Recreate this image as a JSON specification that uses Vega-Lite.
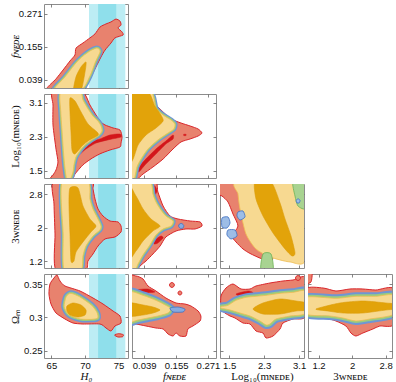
{
"$schema":"https://vega.github.io/schema/vega-lite/v6.json",
"padding":{"left":8,"top":3,"right":2,"bottom":1},
"datasets":{
"bands":[{"lo":70.6,"hi":76.0,"k":"2s"},{"lo":71.95,"hi":74.65,"k":"1s"}],
"c":[
{"p":"A","k":"r2","s":"A1","i":0,"x":64.3,"y":0},{"p":"A","k":"r2","s":"A1","i":1,"x":65.69,"y":0.042},{"p":"A","k":"r2","s":"A1","i":2,"x":66.73,"y":0.073},{"p":"A","k":"r2","s":"A1","i":3,"x":67.77,"y":0.105},{"p":"A","k":"r2","s":"A1","i":4,"x":68.51,"y":0.126},{"p":"A","k":"r2","s":"A1","i":5,"x":68.66,"y":0.15},{"p":"A","k":"r2","s":"A1","i":6,"x":69.7,"y":0.168},{"p":"A","k":"r2","s":"A1","i":7,"x":70.74,"y":0.186},{"p":"A","k":"r2","s":"A1","i":8,"x":71.49,"y":0.2},{"p":"A","k":"r2","s":"A1","i":9,"x":72.23,"y":0.224},{"p":"A","k":"r2","s":"A1","i":10,"x":73.13,"y":0.235},{"p":"A","k":"r2","s":"A1","i":11,"x":73.87,"y":0.242},{"p":"A","k":"r2","s":"A1","i":12,"x":74.61,"y":0.252},{"p":"A","k":"r2","s":"A1","i":13,"x":75.21,"y":0.245},{"p":"A","k":"r2","s":"A1","i":14,"x":75.36,"y":0.231},{"p":"A","k":"r2","s":"A1","i":15,"x":74.91,"y":0.221},{"p":"A","k":"r2","s":"A1","i":16,"x":75.51,"y":0.207},{"p":"A","k":"r2","s":"A1","i":17,"x":75.66,"y":0.196},{"p":"A","k":"r2","s":"A1","i":18,"x":74.46,"y":0.186},{"p":"A","k":"r2","s":"A1","i":19,"x":73.87,"y":0.168},{"p":"A","k":"r2","s":"A1","i":20,"x":72.98,"y":0.143},{"p":"A","k":"r2","s":"A1","i":21,"x":72.38,"y":0.119},{"p":"A","k":"r2","s":"A1","i":22,"x":71.64,"y":0.084},{"p":"A","k":"r2","s":"A1","i":23,"x":70.89,"y":0.049},{"p":"A","k":"r2","s":"A1","i":24,"x":70.15,"y":0.017},{"p":"A","k":"r2","s":"A1","i":25,"x":69.8,"y":0},
{"p":"A","k":"y2","s":"A2","i":0,"x":65.35,"y":0},{"p":"A","k":"y2","s":"A2","i":1,"x":67.02,"y":0.049},{"p":"A","k":"y2","s":"A2","i":2,"x":68.66,"y":0.098},{"p":"A","k":"y2","s":"A2","i":3,"x":69.7,"y":0.122},{"p":"A","k":"y2","s":"A2","i":4,"x":70.74,"y":0.14},{"p":"A","k":"y2","s":"A2","i":5,"x":71.64,"y":0.15},{"p":"A","k":"y2","s":"A2","i":6,"x":72.08,"y":0.147},{"p":"A","k":"y2","s":"A2","i":7,"x":72.23,"y":0.136},{"p":"A","k":"y2","s":"A2","i":8,"x":71.49,"y":0.098},{"p":"A","k":"y2","s":"A2","i":9,"x":70.74,"y":0.052},{"p":"A","k":"y2","s":"A2","i":10,"x":69.3,"y":0},
{"p":"A","k":"y1","s":"A3","i":0,"x":68.3,"y":0},{"p":"A","k":"y1","s":"A3","i":1,"x":68.66,"y":0.049},{"p":"A","k":"y1","s":"A3","i":2,"x":69.41,"y":0.084},{"p":"A","k":"y1","s":"A3","i":3,"x":70.15,"y":0.101},{"p":"A","k":"y1","s":"A3","i":4,"x":70.0,"y":0.066},{"p":"A","k":"y1","s":"A3","i":5,"x":69.4,"y":0},
{"p":"B","k":"r2","s":"B1","i":0,"x":65.24,"y":3.36},{"p":"B","k":"r2","s":"B1","i":1,"x":69.55,"y":3.36},{"p":"B","k":"r2","s":"B1","i":2,"x":70.74,"y":3.05},{"p":"B","k":"r2","s":"B1","i":3,"x":71.64,"y":2.815},{"p":"B","k":"r2","s":"B1","i":4,"x":72.38,"y":2.65},{"p":"B","k":"r2","s":"B1","i":5,"x":72.98,"y":2.58},{"p":"B","k":"r2","s":"B1","i":6,"x":74.17,"y":2.51},{"p":"B","k":"r2","s":"B1","i":7,"x":75.21,"y":2.46},{"p":"B","k":"r2","s":"B1","i":8,"x":75.51,"y":2.3},{"p":"B","k":"r2","s":"B1","i":9,"x":75.36,"y":2.155},{"p":"B","k":"r2","s":"B1","i":10,"x":75.21,"y":2.06},{"p":"B","k":"r2","s":"B1","i":11,"x":73.72,"y":1.99},{"p":"B","k":"r2","s":"B1","i":12,"x":72.23,"y":1.9},{"p":"B","k":"r2","s":"B1","i":13,"x":70.89,"y":1.78},{"p":"B","k":"r2","s":"B1","i":14,"x":69.7,"y":1.64},{"p":"B","k":"r2","s":"B1","i":15,"x":68.51,"y":1.425},{"p":"B","k":"r2","s":"B1","i":16,"x":67.92,"y":1.28},{"p":"B","k":"r2","s":"B1","i":17,"x":64.79,"y":1.28},{"p":"B","k":"r2","s":"B1","i":18,"x":65.24,"y":1.4},{"p":"B","k":"r2","s":"B1","i":19,"x":65.69,"y":1.52},{"p":"B","k":"r2","s":"B1","i":20,"x":65.98,"y":1.71},{"p":"B","k":"r2","s":"B1","i":21,"x":65.69,"y":2.01},{"p":"B","k":"r2","s":"B1","i":22,"x":65.24,"y":2.58},{"p":"B","k":"r2","s":"B1","i":23,"x":65.24,"y":3.05},
{"p":"B","k":"r1","s":"B2","i":0,"x":69.11,"y":1.943},{"p":"B","k":"r1","s":"B2","i":1,"x":69.7,"y":2.084},{"p":"B","k":"r1","s":"B2","i":2,"x":71.19,"y":2.202},{"p":"B","k":"r1","s":"B2","i":3,"x":72.23,"y":2.25},{"p":"B","k":"r1","s":"B2","i":4,"x":73.72,"y":2.344},{"p":"B","k":"r1","s":"B2","i":5,"x":75.21,"y":2.367},{"p":"B","k":"r1","s":"B2","i":6,"x":75.36,"y":2.297},{"p":"B","k":"r1","s":"B2","i":7,"x":73.72,"y":2.24},{"p":"B","k":"r1","s":"B2","i":8,"x":71.64,"y":2.155},{"p":"B","k":"r1","s":"B2","i":9,"x":70.15,"y":2.014},{"p":"B","k":"r1","s":"B2","i":10,"x":69.26,"y":1.896},
{"p":"B","k":"y2","s":"B3","i":0,"x":66.4,"y":3.36},{"p":"B","k":"y2","s":"B3","i":1,"x":69.26,"y":3.36},{"p":"B","k":"y2","s":"B3","i":2,"x":69.7,"y":3.17},{"p":"B","k":"y2","s":"B3","i":3,"x":70.45,"y":2.96},{"p":"B","k":"y2","s":"B3","i":4,"x":71.19,"y":2.79},{"p":"B","k":"y2","s":"B3","i":5,"x":71.94,"y":2.67},{"p":"B","k":"y2","s":"B3","i":6,"x":72.38,"y":2.56},{"p":"B","k":"y2","s":"B3","i":7,"x":72.53,"y":2.44},{"p":"B","k":"y2","s":"B3","i":8,"x":72.08,"y":2.34},{"p":"B","k":"y2","s":"B3","i":9,"x":71.19,"y":2.25},{"p":"B","k":"y2","s":"B3","i":10,"x":70.15,"y":2.13},{"p":"B","k":"y2","s":"B3","i":11,"x":69.41,"y":2.01},{"p":"B","k":"y2","s":"B3","i":12,"x":68.66,"y":1.825},{"p":"B","k":"y2","s":"B3","i":13,"x":68.36,"y":1.64},{"p":"B","k":"y2","s":"B3","i":14,"x":68.22,"y":1.47},{"p":"B","k":"y2","s":"B3","i":15,"x":67.77,"y":1.28},{"p":"B","k":"y2","s":"B3","i":16,"x":67.3,"y":1.28},{"p":"B","k":"y2","s":"B3","i":17,"x":67.0,"y":1.59},{"p":"B","k":"y2","s":"B3","i":18,"x":66.8,"y":1.94},{"p":"B","k":"y2","s":"B3","i":19,"x":66.6,"y":2.41},{"p":"B","k":"y2","s":"B3","i":20,"x":66.4,"y":2.89},
{"p":"B","k":"y1","s":"B4","i":0,"x":67.77,"y":3.216},{"p":"B","k":"y1","s":"B4","i":1,"x":68.51,"y":3.145},{"p":"B","k":"y1","s":"B4","i":2,"x":69.41,"y":2.886},{"p":"B","k":"y1","s":"B4","i":3,"x":70.45,"y":2.603},{"p":"B","k":"y1","s":"B4","i":4,"x":71.79,"y":2.414},{"p":"B","k":"y1","s":"B4","i":5,"x":71.94,"y":2.34},{"p":"B","k":"y1","s":"B4","i":6,"x":70.6,"y":2.22},{"p":"B","k":"y1","s":"B4","i":7,"x":69.6,"y":2.09},{"p":"B","k":"y1","s":"B4","i":8,"x":68.51,"y":1.896},{"p":"B","k":"y1","s":"B4","i":9,"x":68.07,"y":1.99},{"p":"B","k":"y1","s":"B4","i":10,"x":67.92,"y":2.414},{"p":"B","k":"y1","s":"B4","i":11,"x":67.77,"y":2.886},
{"p":"C","k":"r2","s":"C1","i":0,"x":65.39,"y":3.09},{"p":"C","k":"r2","s":"C1","i":1,"x":70.89,"y":3.09},{"p":"C","k":"r2","s":"C1","i":2,"x":71.19,"y":2.921},{"p":"C","k":"r2","s":"C1","i":3,"x":71.49,"y":2.683},{"p":"C","k":"r2","s":"C1","i":4,"x":71.94,"y":2.445},{"p":"C","k":"r2","s":"C1","i":5,"x":72.68,"y":2.278},{"p":"C","k":"r2","s":"C1","i":6,"x":73.72,"y":2.159},{"p":"C","k":"r2","s":"C1","i":7,"x":74.91,"y":2.136},{"p":"C","k":"r2","s":"C1","i":8,"x":75.36,"y":2.04},{"p":"C","k":"r2","s":"C1","i":9,"x":75.36,"y":1.898},{"p":"C","k":"r2","s":"C1","i":10,"x":74.46,"y":1.779},{"p":"C","k":"r2","s":"C1","i":11,"x":72.98,"y":1.731},{"p":"C","k":"r2","s":"C1","i":12,"x":71.94,"y":1.564},{"p":"C","k":"r2","s":"C1","i":13,"x":71.19,"y":1.374},{"p":"C","k":"r2","s":"C1","i":14,"x":70.45,"y":1.207},{"p":"C","k":"r2","s":"C1","i":15,"x":70.0,"y":0.99},{"p":"C","k":"r2","s":"C1","i":16,"x":65.69,"y":0.99},{"p":"C","k":"r2","s":"C1","i":17,"x":65.54,"y":1.85},{"p":"C","k":"r2","s":"C1","i":18,"x":65.39,"y":2.564},
{"p":"C","k":"y2","s":"C2","i":0,"x":66.6,"y":3.09},{"p":"C","k":"y2","s":"C2","i":1,"x":70.45,"y":3.09},{"p":"C","k":"y2","s":"C2","i":2,"x":70.74,"y":2.683},{"p":"C","k":"y2","s":"C2","i":3,"x":71.19,"y":2.445},{"p":"C","k":"y2","s":"C2","i":4,"x":71.94,"y":2.207},{"p":"C","k":"y2","s":"C2","i":5,"x":72.38,"y":2.04},{"p":"C","k":"y2","s":"C2","i":6,"x":72.23,"y":1.945},{"p":"C","k":"y2","s":"C2","i":7,"x":71.19,"y":1.802},{"p":"C","k":"y2","s":"C2","i":8,"x":70.15,"y":1.564},{"p":"C","k":"y2","s":"C2","i":9,"x":69.7,"y":1.326},{"p":"C","k":"y2","s":"C2","i":10,"x":69.41,"y":0.99},{"p":"C","k":"y2","s":"C2","i":11,"x":66.9,"y":0.99},{"p":"C","k":"y2","s":"C2","i":12,"x":66.75,"y":1.85},
{"p":"C","k":"y1","s":"C3","i":0,"x":67.77,"y":2.945},{"p":"C","k":"y1","s":"C3","i":1,"x":68.96,"y":2.945},{"p":"C","k":"y1","s":"C3","i":2,"x":69.7,"y":2.516},{"p":"C","k":"y1","s":"C3","i":3,"x":70.74,"y":2.207},{"p":"C","k":"y1","s":"C3","i":4,"x":71.64,"y":2.04},{"p":"C","k":"y1","s":"C3","i":5,"x":70.89,"y":1.898},{"p":"C","k":"y1","s":"C3","i":6,"x":69.7,"y":1.66},{"p":"C","k":"y1","s":"C3","i":7,"x":68.66,"y":1.422},{"p":"C","k":"y1","s":"C3","i":8,"x":68.36,"y":1.207},{"p":"C","k":"y1","s":"C3","i":9,"x":67.92,"y":1.207},{"p":"C","k":"y1","s":"C3","i":10,"x":67.77,"y":1.85},{"p":"C","k":"y1","s":"C3","i":11,"x":67.62,"y":2.564},
{"p":"D","k":"r2","s":"D1","i":0,"x":64.79,"y":0.35},{"p":"D","k":"r2","s":"D1","i":1,"x":65.39,"y":0.359},{"p":"D","k":"r2","s":"D1","i":2,"x":65.83,"y":0.3635},{"p":"D","k":"r2","s":"D1","i":3,"x":66.28,"y":0.3545},{"p":"D","k":"r2","s":"D1","i":4,"x":67.02,"y":0.347},{"p":"D","k":"r2","s":"D1","i":5,"x":69.26,"y":0.3395},{"p":"D","k":"r2","s":"D1","i":6,"x":71.19,"y":0.329},{"p":"D","k":"r2","s":"D1","i":7,"x":72.68,"y":0.32},{"p":"D","k":"r2","s":"D1","i":8,"x":74.17,"y":0.3095},{"p":"D","k":"r2","s":"D1","i":9,"x":75.21,"y":0.302},{"p":"D","k":"r2","s":"D1","i":10,"x":75.36,"y":0.2915},{"p":"D","k":"r2","s":"D1","i":11,"x":74.46,"y":0.287},{"p":"D","k":"r2","s":"D1","i":12,"x":73.87,"y":0.2795},{"p":"D","k":"r2","s":"D1","i":13,"x":73.13,"y":0.284},{"p":"D","k":"r2","s":"D1","i":14,"x":72.23,"y":0.29},{"p":"D","k":"r2","s":"D1","i":15,"x":69.7,"y":0.29},{"p":"D","k":"r2","s":"D1","i":16,"x":68.22,"y":0.2915},{"p":"D","k":"r2","s":"D1","i":17,"x":67.02,"y":0.2975},{"p":"D","k":"r2","s":"D1","i":18,"x":65.69,"y":0.3065},{"p":"D","k":"r2","s":"D1","i":19,"x":64.94,"y":0.32},{"p":"D","k":"r2","s":"D1","i":20,"x":64.64,"y":0.335},
{"p":"D","k":"r2","s":"D2","i":0,"x":74.4,"y":0.2735},{"p":"D","k":"r2","s":"D2","i":1,"x":75.0,"y":0.2755},{"p":"D","k":"r2","s":"D2","i":2,"x":75.7,"y":0.274},{"p":"D","k":"r2","s":"D2","i":3,"x":75.6,"y":0.271},{"p":"D","k":"r2","s":"D2","i":4,"x":74.9,"y":0.2705},
{"p":"D","k":"y2","s":"D3","i":0,"x":67.2,"y":0.331},{"p":"D","k":"y2","s":"D3","i":1,"x":67.9,"y":0.336},{"p":"D","k":"y2","s":"D3","i":2,"x":69.26,"y":0.3305},{"p":"D","k":"y2","s":"D3","i":3,"x":71.0,"y":0.318},{"p":"D","k":"y2","s":"D3","i":4,"x":71.8,"y":0.307},{"p":"D","k":"y2","s":"D3","i":5,"x":71.9,"y":0.299},{"p":"D","k":"y2","s":"D3","i":6,"x":71.0,"y":0.297},{"p":"D","k":"y2","s":"D3","i":7,"x":69.26,"y":0.2975},{"p":"D","k":"y2","s":"D3","i":8,"x":67.6,"y":0.304},{"p":"D","k":"y2","s":"D3","i":9,"x":66.9,"y":0.316},
{"p":"D","k":"y1","s":"D4","i":0,"x":67.32,"y":0.317},{"p":"D","k":"y1","s":"D4","i":1,"x":68.22,"y":0.3215},{"p":"D","k":"y1","s":"D4","i":2,"x":69.41,"y":0.3185},{"p":"D","k":"y1","s":"D4","i":3,"x":70.15,"y":0.311},{"p":"D","k":"y1","s":"D4","i":4,"x":70.0,"y":0.3035},{"p":"D","k":"y1","s":"D4","i":5,"x":68.96,"y":0.3005},{"p":"D","k":"y1","s":"D4","i":6,"x":67.77,"y":0.3035},{"p":"D","k":"y1","s":"D4","i":7,"x":67.32,"y":0.3095},
{"p":"E","k":"r2","s":"E1","i":0,"x":-0.02,"y":3.36},{"p":"E","k":"r2","s":"E1","i":1,"x":0.035,"y":3.36},{"p":"E","k":"r2","s":"E1","i":2,"x":0.071,"y":3.121},{"p":"E","k":"r2","s":"E1","i":3,"x":0.108,"y":2.886},{"p":"E","k":"r2","s":"E1","i":4,"x":0.137,"y":2.72},{"p":"E","k":"r2","s":"E1","i":5,"x":0.173,"y":2.626},{"p":"E","k":"r2","s":"E1","i":6,"x":0.206,"y":2.556},{"p":"E","k":"r2","s":"E1","i":7,"x":0.235,"y":2.485},{"p":"E","k":"r2","s":"E1","i":8,"x":0.249,"y":2.391},{"p":"E","k":"r2","s":"E1","i":9,"x":0.235,"y":2.32},{"p":"E","k":"r2","s":"E1","i":10,"x":0.206,"y":2.25},{"p":"E","k":"r2","s":"E1","i":11,"x":0.173,"y":2.18},{"p":"E","k":"r2","s":"E1","i":12,"x":0.144,"y":2.014},{"p":"E","k":"r2","s":"E1","i":13,"x":0.108,"y":1.778},{"p":"E","k":"r2","s":"E1","i":14,"x":0.071,"y":1.589},{"p":"E","k":"r2","s":"E1","i":15,"x":0.035,"y":1.424},{"p":"E","k":"r2","s":"E1","i":16,"x":0.0095,"y":1.28},{"p":"E","k":"r2","s":"E1","i":17,"x":-0.02,"y":1.28},
{"p":"E","k":"r1","s":"E2","i":0,"x":0.017,"y":1.542},{"p":"E","k":"r1","s":"E2","i":1,"x":0.035,"y":1.707},{"p":"E","k":"r1","s":"E2","i":2,"x":0.082,"y":2.014},{"p":"E","k":"r1","s":"E2","i":3,"x":0.118,"y":2.202},{"p":"E","k":"r1","s":"E2","i":4,"x":0.144,"y":2.344},{"p":"E","k":"r1","s":"E2","i":5,"x":0.144,"y":2.25},{"p":"E","k":"r1","s":"E2","i":6,"x":0.118,"y":2.131},{"p":"E","k":"r1","s":"E2","i":7,"x":0.082,"y":1.896},{"p":"E","k":"r1","s":"E2","i":8,"x":0.042,"y":1.636},{"p":"E","k":"r1","s":"E2","i":9,"x":0.02,"y":1.47},
{"p":"E","k":"r1","s":"E3","i":0,"x":0.183,"y":2.36},{"p":"E","k":"r1","s":"E3","i":1,"x":0.191,"y":2.36},{"p":"E","k":"r1","s":"E3","i":2,"x":0.191,"y":2.33},{"p":"E","k":"r1","s":"E3","i":3,"x":0.183,"y":2.33},
{"p":"E","k":"y2","s":"E4","i":0,"x":-0.02,"y":3.36},{"p":"E","k":"y2","s":"E4","i":1,"x":0.064,"y":3.36},{"p":"E","k":"y2","s":"E4","i":2,"x":0.082,"y":2.98},{"p":"E","k":"y2","s":"E4","i":3,"x":0.108,"y":2.815},{"p":"E","k":"y2","s":"E4","i":4,"x":0.137,"y":2.697},{"p":"E","k":"y2","s":"E4","i":5,"x":0.151,"y":2.603},{"p":"E","k":"y2","s":"E4","i":6,"x":0.147,"y":2.485},{"p":"E","k":"y2","s":"E4","i":7,"x":0.126,"y":2.391},{"p":"E","k":"y2","s":"E4","i":8,"x":0.089,"y":2.226},{"p":"E","k":"y2","s":"E4","i":9,"x":0.053,"y":2.014},{"p":"E","k":"y2","s":"E4","i":10,"x":0.028,"y":1.778},{"p":"E","k":"y2","s":"E4","i":11,"x":0.013,"y":1.589},{"p":"E","k":"y2","s":"E4","i":12,"x":0.002,"y":1.28},{"p":"E","k":"y2","s":"E4","i":13,"x":-0.02,"y":1.28},
{"p":"E","k":"y1","s":"E5","i":0,"x":-0.02,"y":3.36},{"p":"E","k":"y1","s":"E5","i":1,"x":0.053,"y":3.36},{"p":"E","k":"y1","s":"E5","i":2,"x":0.078,"y":3.027},{"p":"E","k":"y1","s":"E5","i":3,"x":0.1,"y":2.815},{"p":"E","k":"y1","s":"E5","i":4,"x":0.108,"y":2.674},{"p":"E","k":"y1","s":"E5","i":5,"x":0.082,"y":2.509},{"p":"E","k":"y1","s":"E5","i":6,"x":0.046,"y":2.344},{"p":"E","k":"y1","s":"E5","i":7,"x":0.017,"y":2.108},{"p":"E","k":"y1","s":"E5","i":8,"x":-0.001,"y":1.778},{"p":"E","k":"y1","s":"E5","i":9,"x":-0.02,"y":1.707},
{"p":"F","k":"r2","s":"F1","i":0,"x":-0.02,"y":3.09},{"p":"F","k":"r2","s":"F1","i":1,"x":0.078,"y":3.09},{"p":"F","k":"r2","s":"F1","i":2,"x":0.089,"y":2.85},{"p":"F","k":"r2","s":"F1","i":3,"x":0.108,"y":2.516},{"p":"F","k":"r2","s":"F1","i":4,"x":0.133,"y":2.278},{"p":"F","k":"r2","s":"F1","i":5,"x":0.162,"y":2.207},{"p":"F","k":"r2","s":"F1","i":6,"x":0.206,"y":2.159},{"p":"F","k":"r2","s":"F1","i":7,"x":0.242,"y":2.136},{"p":"F","k":"r2","s":"F1","i":8,"x":0.249,"y":2.04},{"p":"F","k":"r2","s":"F1","i":9,"x":0.224,"y":1.969},{"p":"F","k":"r2","s":"F1","i":10,"x":0.191,"y":1.969},{"p":"F","k":"r2","s":"F1","i":11,"x":0.155,"y":1.921},{"p":"F","k":"r2","s":"F1","i":12,"x":0.118,"y":1.779},{"p":"F","k":"r2","s":"F1","i":13,"x":0.097,"y":1.564},{"p":"F","k":"r2","s":"F1","i":14,"x":0.071,"y":1.374},{"p":"F","k":"r2","s":"F1","i":15,"x":0.046,"y":1.207},{"p":"F","k":"r2","s":"F1","i":16,"x":0.028,"y":1.112},{"p":"F","k":"r2","s":"F1","i":17,"x":0.0095,"y":0.99},{"p":"F","k":"r2","s":"F1","i":18,"x":-0.02,"y":0.99},
{"p":"F","k":"r1","s":"F2","i":0,"x":0.064,"y":2.969},{"p":"F","k":"r1","s":"F2","i":1,"x":0.078,"y":2.992},{"p":"F","k":"r1","s":"F2","i":2,"x":0.086,"y":2.873},{"p":"F","k":"r1","s":"F2","i":3,"x":0.075,"y":2.754},{"p":"F","k":"r1","s":"F2","i":4,"x":0.064,"y":2.826},
{"p":"F","k":"r1","s":"F3","i":0,"x":0.078,"y":1.707},{"p":"F","k":"r1","s":"F3","i":1,"x":0.1,"y":1.802},{"p":"F","k":"r1","s":"F3","i":2,"x":0.108,"y":1.755},{"p":"F","k":"r1","s":"F3","i":3,"x":0.089,"y":1.636},{"p":"F","k":"r1","s":"F3","i":4,"x":0.075,"y":1.612},
{"p":"F","k":"b","s":"F4","i":0,"x":0.164,"y":2.04},{"p":"F","k":"b","s":"F4","i":1,"x":0.168,"y":2.09},{"p":"F","k":"b","s":"F4","i":2,"x":0.176,"y":2.1},{"p":"F","k":"b","s":"F4","i":3,"x":0.183,"y":2.05},{"p":"F","k":"b","s":"F4","i":4,"x":0.18,"y":1.99},{"p":"F","k":"b","s":"F4","i":5,"x":0.17,"y":1.985},
{"p":"F","k":"y2","s":"F5","i":0,"x":-0.02,"y":3.09},{"p":"F","k":"y2","s":"F5","i":1,"x":0.06,"y":3.09},{"p":"F","k":"y2","s":"F5","i":2,"x":0.071,"y":2.802},{"p":"F","k":"y2","s":"F5","i":3,"x":0.082,"y":2.612},{"p":"F","k":"y2","s":"F5","i":4,"x":0.1,"y":2.421},{"p":"F","k":"y2","s":"F5","i":5,"x":0.118,"y":2.278},{"p":"F","k":"y2","s":"F5","i":6,"x":0.144,"y":2.159},{"p":"F","k":"y2","s":"F5","i":7,"x":0.137,"y":2.04},{"p":"F","k":"y2","s":"F5","i":8,"x":0.108,"y":1.969},{"p":"F","k":"y2","s":"F5","i":9,"x":0.082,"y":1.826},{"p":"F","k":"y2","s":"F5","i":10,"x":0.06,"y":1.588},{"p":"F","k":"y2","s":"F5","i":11,"x":0.035,"y":1.35},{"p":"F","k":"y2","s":"F5","i":12,"x":0.017,"y":1.136},{"p":"F","k":"y2","s":"F5","i":13,"x":0.006,"y":0.99},{"p":"F","k":"y2","s":"F5","i":14,"x":-0.02,"y":0.99},
{"p":"F","k":"y1","s":"F6","i":0,"x":-0.02,"y":2.96},{"p":"F","k":"y1","s":"F6","i":1,"x":0.0095,"y":2.754},{"p":"F","k":"y1","s":"F6","i":2,"x":0.035,"y":2.445},{"p":"F","k":"y1","s":"F6","i":3,"x":0.064,"y":2.207},{"p":"F","k":"y1","s":"F6","i":4,"x":0.097,"y":2.04},{"p":"F","k":"y1","s":"F6","i":5,"x":0.071,"y":1.921},{"p":"F","k":"y1","s":"F6","i":6,"x":0.035,"y":1.683},{"p":"F","k":"y1","s":"F6","i":7,"x":0.0095,"y":1.445},{"p":"F","k":"y1","s":"F6","i":8,"x":-0.02,"y":1.3},
{"p":"G","k":"r2","s":"G1","i":0,"x":1.25,"y":3.09},{"p":"G","k":"r2","s":"G1","i":1,"x":1.816,"y":3.09},{"p":"G","k":"r2","s":"G1","i":2,"x":2.044,"y":2.088},{"p":"G","k":"r2","s":"G1","i":3,"x":2.319,"y":1.493},{"p":"G","k":"r2","s":"G1","i":4,"x":2.5,"y":1.255},{"p":"G","k":"r2","s":"G1","i":5,"x":2.319,"y":1.231},{"p":"G","k":"r2","s":"G1","i":6,"x":1.999,"y":1.374},{"p":"G","k":"r2","s":"G1","i":7,"x":1.816,"y":1.493},{"p":"G","k":"r2","s":"G1","i":8,"x":1.656,"y":1.66},{"p":"G","k":"r2","s":"G1","i":9,"x":1.564,"y":1.802},{"p":"G","k":"r2","s":"G1","i":10,"x":1.701,"y":2.04},{"p":"G","k":"r2","s":"G1","i":11,"x":1.587,"y":2.326},{"p":"G","k":"r2","s":"G1","i":12,"x":1.473,"y":2.612},{"p":"G","k":"r2","s":"G1","i":13,"x":1.336,"y":2.754},{"p":"G","k":"r2","s":"G1","i":14,"x":1.25,"y":2.802},
{"p":"G","k":"y2","s":"G2","i":0,"x":1.679,"y":3.09},{"p":"G","k":"y2","s":"G2","i":1,"x":3.25,"y":3.09},{"p":"G","k":"y2","s":"G2","i":2,"x":3.25,"y":1.255},{"p":"G","k":"y2","s":"G2","i":3,"x":2.89,"y":1.184},{"p":"G","k":"y2","s":"G2","i":4,"x":2.433,"y":1.303},{"p":"G","k":"y2","s":"G2","i":5,"x":2.113,"y":1.493},{"p":"G","k":"y2","s":"G2","i":6,"x":1.884,"y":1.85},{"p":"G","k":"y2","s":"G2","i":7,"x":1.747,"y":2.445},{"p":"G","k":"y2","s":"G2","i":8,"x":1.701,"y":2.802},
{"p":"G","k":"g","s":"G3","i":0,"x":2.959,"y":3.09},{"p":"G","k":"g","s":"G3","i":1,"x":3.25,"y":3.09},{"p":"G","k":"g","s":"G3","i":2,"x":3.25,"y":2.469},{"p":"G","k":"g","s":"G3","i":3,"x":3.073,"y":2.516},{"p":"G","k":"g","s":"G3","i":4,"x":3.004,"y":2.754},
{"p":"G","k":"g","s":"G4","i":0,"x":2.273,"y":1.374},{"p":"G","k":"g","s":"G4","i":1,"x":2.456,"y":1.374},{"p":"G","k":"g","s":"G4","i":2,"x":2.502,"y":0.99},{"p":"G","k":"g","s":"G4","i":3,"x":2.227,"y":0.99},
{"p":"G","k":"b","s":"G5","i":0,"x":1.336,"y":2.231},{"p":"G","k":"b","s":"G5","i":1,"x":1.473,"y":2.255},{"p":"G","k":"b","s":"G5","i":2,"x":1.519,"y":2.112},{"p":"G","k":"b","s":"G5","i":3,"x":1.45,"y":1.993},{"p":"G","k":"b","s":"G5","i":4,"x":1.336,"y":2.017},
{"p":"G","k":"b","s":"G6","i":0,"x":1.473,"y":1.945},{"p":"G","k":"b","s":"G6","i":1,"x":1.633,"y":1.945},{"p":"G","k":"b","s":"G6","i":2,"x":1.679,"y":1.802},{"p":"G","k":"b","s":"G6","i":3,"x":1.541,"y":1.731},{"p":"G","k":"b","s":"G6","i":4,"x":1.45,"y":1.826},
{"p":"G","k":"b","s":"G7","i":0,"x":1.701,"y":2.374},{"p":"G","k":"b","s":"G7","i":1,"x":1.816,"y":2.397},{"p":"G","k":"b","s":"G7","i":2,"x":1.862,"y":2.255},{"p":"G","k":"b","s":"G7","i":3,"x":1.747,"y":2.183},{"p":"G","k":"b","s":"G7","i":4,"x":1.679,"y":2.278},
{"p":"G","k":"b","s":"G8","i":0,"x":3.03,"y":2.64},{"p":"G","k":"b","s":"G8","i":1,"x":3.07,"y":2.69},{"p":"G","k":"b","s":"G8","i":2,"x":3.12,"y":2.65},{"p":"G","k":"b","s":"G8","i":3,"x":3.1,"y":2.59},{"p":"G","k":"b","s":"G8","i":4,"x":3.05,"y":2.59},
{"p":"G","k":"y1","s":"G9","i":0,"x":2.09,"y":3.09},{"p":"G","k":"y1","s":"G9","i":1,"x":2.456,"y":3.09},{"p":"G","k":"y1","s":"G9","i":2,"x":2.662,"y":2.588},{"p":"G","k":"y1","s":"G9","i":3,"x":2.776,"y":2.207},{"p":"G","k":"y1","s":"G9","i":4,"x":2.913,"y":1.802},{"p":"G","k":"y1","s":"G9","i":5,"x":3.004,"y":1.398},{"p":"G","k":"y1","s":"G9","i":6,"x":2.936,"y":1.326},{"p":"G","k":"y1","s":"G9","i":7,"x":2.776,"y":1.493},{"p":"G","k":"y1","s":"G9","i":8,"x":2.502,"y":1.874},{"p":"G","k":"y1","s":"G9","i":9,"x":2.273,"y":2.278},{"p":"G","k":"y1","s":"G9","i":10,"x":2.113,"y":2.683},
{"p":"H","k":"r2","s":"H1","i":0,"x":-0.02,"y":0.359},{"p":"H","k":"r2","s":"H1","i":1,"x":0.0095,"y":0.362},{"p":"H","k":"r2","s":"H1","i":2,"x":0.035,"y":0.3575},{"p":"H","k":"r2","s":"H1","i":3,"x":0.053,"y":0.347},{"p":"H","k":"r2","s":"H1","i":4,"x":0.082,"y":0.3395},{"p":"H","k":"r2","s":"H1","i":5,"x":0.118,"y":0.329},{"p":"H","k":"r2","s":"H1","i":6,"x":0.155,"y":0.3215},{"p":"H","k":"r2","s":"H1","i":7,"x":0.187,"y":0.32},{"p":"H","k":"r2","s":"H1","i":8,"x":0.209,"y":0.317},{"p":"H","k":"r2","s":"H1","i":9,"x":0.235,"y":0.3095},{"p":"H","k":"r2","s":"H1","i":10,"x":0.245,"y":0.302},{"p":"H","k":"r2","s":"H1","i":11,"x":0.242,"y":0.2945},{"p":"H","k":"r2","s":"H1","i":12,"x":0.216,"y":0.287},{"p":"H","k":"r2","s":"H1","i":13,"x":0.198,"y":0.2825},{"p":"H","k":"r2","s":"H1","i":14,"x":0.191,"y":0.272},{"p":"H","k":"r2","s":"H1","i":15,"x":0.169,"y":0.272},{"p":"H","k":"r2","s":"H1","i":16,"x":0.155,"y":0.2765},{"p":"H","k":"r2","s":"H1","i":17,"x":0.144,"y":0.272},{"p":"H","k":"r2","s":"H1","i":18,"x":0.126,"y":0.275},{"p":"H","k":"r2","s":"H1","i":19,"x":0.108,"y":0.2825},{"p":"H","k":"r2","s":"H1","i":20,"x":0.082,"y":0.284},{"p":"H","k":"r2","s":"H1","i":21,"x":0.046,"y":0.287},{"p":"H","k":"r2","s":"H1","i":22,"x":0.0095,"y":0.29},{"p":"H","k":"r2","s":"H1","i":23,"x":-0.02,"y":0.2915},
{"p":"H","k":"r2","s":"H2","i":0,"x":0.149,"y":0.3485},{"p":"H","k":"r2","s":"H2","i":1,"x":0.146,"y":0.3511},{"p":"H","k":"r2","s":"H2","i":2,"x":0.14,"y":0.3522},{"p":"H","k":"r2","s":"H2","i":3,"x":0.134,"y":0.3511},{"p":"H","k":"r2","s":"H2","i":4,"x":0.131,"y":0.3485},{"p":"H","k":"r2","s":"H2","i":5,"x":0.134,"y":0.3459},{"p":"H","k":"r2","s":"H2","i":6,"x":0.14,"y":0.3448},{"p":"H","k":"r2","s":"H2","i":7,"x":0.146,"y":0.3459},
{"p":"H","k":"r2","s":"H3","i":0,"x":0.176,"y":0.3365},{"p":"H","k":"r2","s":"H3","i":1,"x":0.174,"y":0.3386},{"p":"H","k":"r2","s":"H3","i":2,"x":0.169,"y":0.3395},{"p":"H","k":"r2","s":"H3","i":3,"x":0.164,"y":0.3386},{"p":"H","k":"r2","s":"H3","i":4,"x":0.162,"y":0.3365},{"p":"H","k":"r2","s":"H3","i":5,"x":0.164,"y":0.3344},{"p":"H","k":"r2","s":"H3","i":6,"x":0.169,"y":0.3335},{"p":"H","k":"r2","s":"H3","i":7,"x":0.174,"y":0.3344},
{"p":"H","k":"r1","s":"H4","i":0,"x":0.0095,"y":0.341},{"p":"H","k":"r1","s":"H4","i":1,"x":0.053,"y":0.3425},{"p":"H","k":"r1","s":"H4","i":2,"x":0.078,"y":0.338},{"p":"H","k":"r1","s":"H4","i":3,"x":0.035,"y":0.337},
{"p":"H","k":"y2","s":"H5","i":0,"x":-0.02,"y":0.3375},{"p":"H","k":"y2","s":"H5","i":1,"x":0.035,"y":0.333},{"p":"H","k":"y2","s":"H5","i":2,"x":0.082,"y":0.3255},{"p":"H","k":"y2","s":"H5","i":3,"x":0.118,"y":0.318},{"p":"H","k":"y2","s":"H5","i":4,"x":0.137,"y":0.313},{"p":"H","k":"y2","s":"H5","i":5,"x":0.126,"y":0.3065},{"p":"H","k":"y2","s":"H5","i":6,"x":0.089,"y":0.302},{"p":"H","k":"y2","s":"H5","i":7,"x":0.053,"y":0.299},{"p":"H","k":"y2","s":"H5","i":8,"x":0.017,"y":0.296},{"p":"H","k":"y2","s":"H5","i":9,"x":-0.02,"y":0.2945},
{"p":"H","k":"b","s":"H6","i":0,"x":0.133,"y":0.314},{"p":"H","k":"b","s":"H6","i":1,"x":0.162,"y":0.3155},{"p":"H","k":"b","s":"H6","i":2,"x":0.187,"y":0.3125},{"p":"H","k":"b","s":"H6","i":3,"x":0.18,"y":0.308},{"p":"H","k":"b","s":"H6","i":4,"x":0.144,"y":0.308},
{"p":"H","k":"y1","s":"H7","i":0,"x":-0.02,"y":0.3215},{"p":"H","k":"y1","s":"H7","i":1,"x":0.035,"y":0.3185},{"p":"H","k":"y1","s":"H7","i":2,"x":0.071,"y":0.3155},{"p":"H","k":"y1","s":"H7","i":3,"x":0.097,"y":0.311},{"p":"H","k":"y1","s":"H7","i":4,"x":0.071,"y":0.3065},{"p":"H","k":"y1","s":"H7","i":5,"x":0.035,"y":0.3035},{"p":"H","k":"y1","s":"H7","i":6,"x":-0.02,"y":0.302},
{"p":"I","k":"r2","s":"I1","i":0,"x":1.313,"y":0.332},{"p":"I","k":"r2","s":"I1","i":1,"x":1.427,"y":0.344},{"p":"I","k":"r2","s":"I1","i":2,"x":1.587,"y":0.35},{"p":"I","k":"r2","s":"I1","i":3,"x":1.77,"y":0.3425},{"p":"I","k":"r2","s":"I1","i":4,"x":1.976,"y":0.3425},{"p":"I","k":"r2","s":"I1","i":5,"x":2.113,"y":0.347},{"p":"I","k":"r2","s":"I1","i":6,"x":2.433,"y":0.3515},{"p":"I","k":"r2","s":"I1","i":7,"x":2.73,"y":0.3545},{"p":"I","k":"r2","s":"I1","i":8,"x":2.959,"y":0.356},{"p":"I","k":"r2","s":"I1","i":9,"x":3.25,"y":0.359},{"p":"I","k":"r2","s":"I1","i":10,"x":3.25,"y":0.302},{"p":"I","k":"r2","s":"I1","i":11,"x":2.959,"y":0.2975},{"p":"I","k":"r2","s":"I1","i":12,"x":2.73,"y":0.2915},{"p":"I","k":"r2","s":"I1","i":13,"x":2.662,"y":0.2825},{"p":"I","k":"r2","s":"I1","i":14,"x":2.502,"y":0.272},{"p":"I","k":"r2","s":"I1","i":15,"x":2.342,"y":0.269},{"p":"I","k":"r2","s":"I1","i":16,"x":2.273,"y":0.2765},{"p":"I","k":"r2","s":"I1","i":17,"x":2.113,"y":0.2795},{"p":"I","k":"r2","s":"I1","i":18,"x":1.976,"y":0.29},{"p":"I","k":"r2","s":"I1","i":19,"x":1.816,"y":0.2915},{"p":"I","k":"r2","s":"I1","i":20,"x":1.633,"y":0.299},{"p":"I","k":"r2","s":"I1","i":21,"x":1.519,"y":0.302},{"p":"I","k":"r2","s":"I1","i":22,"x":1.404,"y":0.3065},{"p":"I","k":"r2","s":"I1","i":23,"x":1.313,"y":0.3125},
{"p":"I","k":"r2","s":"I2","i":0,"x":3.13,"y":0.359},{"p":"I","k":"r2","s":"I2","i":1,"x":3.113,"y":0.3616},{"p":"I","k":"r2","s":"I2","i":2,"x":3.073,"y":0.3627},{"p":"I","k":"r2","s":"I2","i":3,"x":3.033,"y":0.3616},{"p":"I","k":"r2","s":"I2","i":4,"x":3.016,"y":0.359},{"p":"I","k":"r2","s":"I2","i":5,"x":3.033,"y":0.3564},{"p":"I","k":"r2","s":"I2","i":6,"x":3.073,"y":0.3553},{"p":"I","k":"r2","s":"I2","i":7,"x":3.113,"y":0.3564},
{"p":"I","k":"r1","s":"I3","i":0,"x":1.656,"y":0.335},{"p":"I","k":"r1","s":"I3","i":1,"x":1.93,"y":0.3395},{"p":"I","k":"r1","s":"I3","i":2,"x":2.044,"y":0.3365},{"p":"I","k":"r1","s":"I3","i":3,"x":1.816,"y":0.3305},
{"p":"I","k":"y2","s":"I4","i":0,"x":1.313,"y":0.316},{"p":"I","k":"y2","s":"I4","i":1,"x":1.473,"y":0.318},{"p":"I","k":"y2","s":"I4","i":2,"x":1.656,"y":0.3255},{"p":"I","k":"y2","s":"I4","i":3,"x":1.884,"y":0.33},{"p":"I","k":"y2","s":"I4","i":4,"x":2.113,"y":0.3315},{"p":"I","k":"y2","s":"I4","i":5,"x":2.342,"y":0.333},{"p":"I","k":"y2","s":"I4","i":6,"x":2.662,"y":0.336},{"p":"I","k":"y2","s":"I4","i":7,"x":2.959,"y":0.3375},{"p":"I","k":"y2","s":"I4","i":8,"x":3.25,"y":0.339},{"p":"I","k":"y2","s":"I4","i":9,"x":3.25,"y":0.3065},{"p":"I","k":"y2","s":"I4","i":10,"x":2.89,"y":0.302},{"p":"I","k":"y2","s":"I4","i":11,"x":2.57,"y":0.2975},{"p":"I","k":"y2","s":"I4","i":12,"x":2.433,"y":0.29},{"p":"I","k":"y2","s":"I4","i":13,"x":2.342,"y":0.2885},{"p":"I","k":"y2","s":"I4","i":14,"x":2.204,"y":0.2945},{"p":"I","k":"y2","s":"I4","i":15,"x":1.976,"y":0.302},{"p":"I","k":"y2","s":"I4","i":16,"x":1.747,"y":0.3065},{"p":"I","k":"y2","s":"I4","i":17,"x":1.519,"y":0.311},{"p":"I","k":"y2","s":"I4","i":18,"x":1.313,"y":0.314},
{"p":"I","k":"y1","s":"I5","i":0,"x":2.044,"y":0.3125},{"p":"I","k":"y1","s":"I5","i":1,"x":2.273,"y":0.3215},{"p":"I","k":"y1","s":"I5","i":2,"x":2.662,"y":0.3275},{"p":"I","k":"y1","s":"I5","i":3,"x":3.027,"y":0.3245},{"p":"I","k":"y1","s":"I5","i":4,"x":3.25,"y":0.3215},{"p":"I","k":"y1","s":"I5","i":5,"x":3.25,"y":0.311},{"p":"I","k":"y1","s":"I5","i":6,"x":3.027,"y":0.3095},{"p":"I","k":"y1","s":"I5","i":7,"x":2.662,"y":0.305},{"p":"I","k":"y1","s":"I5","i":8,"x":2.273,"y":0.305},
{"p":"J","k":"r2","s":"J1","i":0,"x":0.9,"y":0.3425},{"p":"J","k":"r2","s":"J1","i":1,"x":1.307,"y":0.344},{"p":"J","k":"r2","s":"J1","i":2,"x":1.616,"y":0.3395},{"p":"J","k":"r2","s":"J1","i":3,"x":1.948,"y":0.3425},{"p":"J","k":"r2","s":"J1","i":4,"x":2.257,"y":0.3425},{"p":"J","k":"r2","s":"J1","i":5,"x":2.566,"y":0.341},{"p":"J","k":"r2","s":"J1","i":6,"x":3.0,"y":0.3425},{"p":"J","k":"r2","s":"J1","i":7,"x":3.0,"y":0.29},{"p":"J","k":"r2","s":"J1","i":8,"x":2.661,"y":0.287},{"p":"J","k":"r2","s":"J1","i":9,"x":2.495,"y":0.2825},{"p":"J","k":"r2","s":"J1","i":10,"x":2.257,"y":0.2765},{"p":"J","k":"r2","s":"J1","i":11,"x":2.091,"y":0.272},{"p":"J","k":"r2","s":"J1","i":12,"x":1.972,"y":0.2765},{"p":"J","k":"r2","s":"J1","i":13,"x":1.853,"y":0.287},{"p":"J","k":"r2","s":"J1","i":14,"x":1.616,"y":0.2945},{"p":"J","k":"r2","s":"J1","i":15,"x":1.378,"y":0.299},{"p":"J","k":"r2","s":"J1","i":16,"x":1.14,"y":0.302},{"p":"J","k":"r2","s":"J1","i":17,"x":0.9,"y":0.302},
{"p":"J","k":"r2","s":"J2","i":0,"x":0.9,"y":0.367},{"p":"J","k":"r2","s":"J2","i":1,"x":1.045,"y":0.367},{"p":"J","k":"r2","s":"J2","i":2,"x":1.021,"y":0.353},{"p":"J","k":"r2","s":"J2","i":3,"x":0.9,"y":0.3515},
{"p":"J","k":"y2","s":"J3","i":0,"x":0.9,"y":0.33},{"p":"J","k":"y2","s":"J3","i":1,"x":1.616,"y":0.3285},{"p":"J","k":"y2","s":"J3","i":2,"x":2.091,"y":0.3315},{"p":"J","k":"y2","s":"J3","i":3,"x":2.566,"y":0.3315},{"p":"J","k":"y2","s":"J3","i":4,"x":3.0,"y":0.333},{"p":"J","k":"y2","s":"J3","i":5,"x":3.0,"y":0.305},{"p":"J","k":"y2","s":"J3","i":6,"x":2.424,"y":0.2975},{"p":"J","k":"y2","s":"J3","i":7,"x":2.091,"y":0.2945},{"p":"J","k":"y2","s":"J3","i":8,"x":1.782,"y":0.299},{"p":"J","k":"y2","s":"J3","i":9,"x":1.473,"y":0.302},{"p":"J","k":"y2","s":"J3","i":10,"x":0.9,"y":0.305},
{"p":"J","k":"y1","s":"J4","i":0,"x":1.14,"y":0.3125},{"p":"J","k":"y1","s":"J4","i":1,"x":1.711,"y":0.3215},{"p":"J","k":"y1","s":"J4","i":2,"x":2.257,"y":0.3245},{"p":"J","k":"y1","s":"J4","i":3,"x":2.804,"y":0.3215},{"p":"J","k":"y1","s":"J4","i":4,"x":3.0,"y":0.32},{"p":"J","k":"y1","s":"J4","i":5,"x":3.0,"y":0.3125},{"p":"J","k":"y1","s":"J4","i":6,"x":2.804,"y":0.311},{"p":"J","k":"y1","s":"J4","i":7,"x":2.257,"y":0.3065},{"p":"J","k":"y1","s":"J4","i":8,"x":1.782,"y":0.3065},{"p":"J","k":"y1","s":"J4","i":9,"x":1.425,"y":0.3095}
]},
"data":{"name":"c"},
"spacing":4,
"resolve":{"scale":{"x":"independent","y":"independent"}},
"vconcat":[
{"spacing":4,"bounds":"flush","resolve":{"scale":{"x":"independent","y":"independent"}},"hconcat":[
{"width":84,"height":84,"resolve":{"axis":{"x":"independent","y":"independent"}},"layer":[
{"data":{"name":"bands"},"mark":{"type":"rect","clip":true},"encoding":{"x":{"field":"lo","type":"quantitative","scale":{"domain":[63.9,76.4],"nice":false,"zero":false},"axis":null},"x2":{"field":"hi"},"color":{"field":"k","type":"nominal","scale":{"domain":["2s","1s"],"range":["#bcedf4","#8fdfeb"]},"legend":null}}},
{"encoding":{"x":{"field":"x","type":"quantitative","scale":{"domain":[63.9,76.4],"nice":false,"zero":false},"axis":{"orient":"bottom","values":[65,70,75],"labels":false,"title":null,"minExtent":0,"maxExtent":0}},"y":{"field":"y","type":"quantitative","scale":{"domain":[0.01,0.305],"nice":false,"zero":false},"axis":{"orient":"left","values":[0.039,0.155,0.271],"format":".3f","title":"fɴᴇᴅᴇ","titleFontStyle":"italic","minExtent":26,"maxExtent":26}},"order":{"field":"i","type":"quantitative"},"detail":{"field":"s","type":"nominal"}},
"layer":[
{"transform":[{"filter":"datum.p=='A'&&datum.k=='r2'"}],"mark":{"type":"line","interpolate":"cardinal-closed","tension":0.3,"clip":true,"fill":"#e8826e","stroke":"#d9262b","strokeWidth":1}},
{"transform":[{"filter":"datum.p=='A'&&datum.k=='y2'"}],"mark":{"type":"line","interpolate":"cardinal-closed","tension":0.3,"clip":true,"fill":"#7aa0d8","stroke":"#6f96d4","strokeWidth":5}},
{"transform":[{"filter":"datum.p=='A'&&datum.k=='y2'"}],"mark":{"type":"line","interpolate":"cardinal-closed","tension":0.3,"clip":true,"fill":"#9acb7e","stroke":"#9acb7e","strokeWidth":2.5}},
{"transform":[{"filter":"datum.p=='A'&&datum.k=='y2'"}],"mark":{"type":"line","interpolate":"cardinal-closed","tension":0.3,"clip":true,"fill":"#f7d991","stroke":"#efbd52","strokeWidth":0.8}},
{"transform":[{"filter":"datum.p=='A'&&datum.k=='y1'"}],"mark":{"type":"line","interpolate":"cardinal-closed","tension":0.3,"clip":true,"fill":"#e2a30a","stroke":"#dc9c08","strokeWidth":0.6}}
]},
{"transform":[{"filter":"datum.p=='A'&&datum.k=='y1'"}],"mark":{"type":"point","opacity":0,"clip":true,"size":1},"encoding":{"x":{"field":"x","type":"quantitative","scale":{"domain":[63.9,76.4],"nice":false,"zero":false},"axis":{"orient":"top","values":[65,70,75],"labels":false,"title":null,"minExtent":0,"maxExtent":0}},"y":{"field":"y","type":"quantitative","scale":{"domain":[0.01,0.305],"nice":false,"zero":false},"axis":{"orient":"right","values":[0.039,0.155,0.271],"labels":false,"title":null,"minExtent":0,"maxExtent":0}}}}
]}
]},
{"spacing":4,"bounds":"flush","resolve":{"scale":{"x":"independent","y":"independent"}},"hconcat":[
{"width":84,"height":84,"resolve":{"axis":{"x":"independent","y":"independent"}},"layer":[
{"data":{"name":"bands"},"mark":{"type":"rect","clip":true},"encoding":{"x":{"field":"lo","type":"quantitative","scale":{"domain":[63.9,76.4],"nice":false,"zero":false},"axis":null},"x2":{"field":"hi"},"color":{"field":"k","type":"nominal","scale":{"domain":["2s","1s"],"range":["#bcedf4","#8fdfeb"]},"legend":null}}},
{"encoding":{"x":{"field":"x","type":"quantitative","scale":{"domain":[63.9,76.4],"nice":false,"zero":false},"axis":{"orient":"bottom","values":[65,70,75],"labels":false,"title":null,"minExtent":0,"maxExtent":0}},"y":{"field":"y","type":"quantitative","scale":{"domain":[1.33,3.31],"nice":false,"zero":false},"axis":{"orient":"left","values":[1.5,2.3,3.1],"format":".1f","title":"Log₁₀(mɴᴇᴅᴇ)","minExtent":26,"maxExtent":26}},"order":{"field":"i","type":"quantitative"},"detail":{"field":"s","type":"nominal"}},
"layer":[
{"transform":[{"filter":"datum.p=='B'&&datum.k=='r2'"}],"mark":{"type":"line","interpolate":"cardinal-closed","tension":0.3,"clip":true,"fill":"#e8826e","stroke":"#d9262b","strokeWidth":1}},
{"transform":[{"filter":"datum.p=='B'&&datum.k=='r1'"}],"mark":{"type":"line","interpolate":"cardinal-closed","tension":0.3,"clip":true,"fill":"#d3161b","stroke":"#d3161b","strokeWidth":0.5}},
{"transform":[{"filter":"datum.p=='B'&&datum.k=='y2'"}],"mark":{"type":"line","interpolate":"cardinal-closed","tension":0.3,"clip":true,"fill":"#7aa0d8","stroke":"#6f96d4","strokeWidth":5}},
{"transform":[{"filter":"datum.p=='B'&&datum.k=='y2'"}],"mark":{"type":"line","interpolate":"cardinal-closed","tension":0.3,"clip":true,"fill":"#9acb7e","stroke":"#9acb7e","strokeWidth":2.5}},
{"transform":[{"filter":"datum.p=='B'&&datum.k=='y2'"}],"mark":{"type":"line","interpolate":"cardinal-closed","tension":0.3,"clip":true,"fill":"#f7d991","stroke":"#efbd52","strokeWidth":0.8}},
{"transform":[{"filter":"datum.p=='B'&&datum.k=='y1'"}],"mark":{"type":"line","interpolate":"cardinal-closed","tension":0.3,"clip":true,"fill":"#e2a30a","stroke":"#dc9c08","strokeWidth":0.6}}
]},
{"transform":[{"filter":"datum.p=='B'&&datum.k=='y1'"}],"mark":{"type":"point","opacity":0,"clip":true,"size":1},"encoding":{"x":{"field":"x","type":"quantitative","scale":{"domain":[63.9,76.4],"nice":false,"zero":false},"axis":{"orient":"top","values":[65,70,75],"labels":false,"title":null,"minExtent":0,"maxExtent":0}},"y":{"field":"y","type":"quantitative","scale":{"domain":[1.33,3.31],"nice":false,"zero":false},"axis":{"orient":"right","values":[1.5,2.3,3.1],"labels":false,"title":null,"minExtent":0,"maxExtent":0}}}}
]},
{"width":84,"height":84,"resolve":{"axis":{"x":"independent","y":"independent"}},"layer":[
{"encoding":{"x":{"field":"x","type":"quantitative","scale":{"domain":[-0.005,0.3],"nice":false,"zero":false},"axis":{"orient":"bottom","values":[0.039,0.155,0.271],"labels":false,"title":null,"minExtent":0,"maxExtent":0}},"y":{"field":"y","type":"quantitative","scale":{"domain":[1.33,3.31],"nice":false,"zero":false},"axis":{"orient":"left","values":[1.5,2.3,3.1],"labels":false,"title":null,"minExtent":0,"maxExtent":0}},"order":{"field":"i","type":"quantitative"},"detail":{"field":"s","type":"nominal"}},
"layer":[
{"transform":[{"filter":"datum.p=='E'&&datum.k=='r2'"}],"mark":{"type":"line","interpolate":"cardinal-closed","tension":0.3,"clip":true,"fill":"#e8826e","stroke":"#d9262b","strokeWidth":1}},
{"transform":[{"filter":"datum.p=='E'&&datum.k=='r1'"}],"mark":{"type":"line","interpolate":"cardinal-closed","tension":0.3,"clip":true,"fill":"#d3161b","stroke":"#d3161b","strokeWidth":0.5}},
{"transform":[{"filter":"datum.p=='E'&&datum.k=='y2'"}],"mark":{"type":"line","interpolate":"cardinal-closed","tension":0.3,"clip":true,"fill":"#7aa0d8","stroke":"#6f96d4","strokeWidth":5}},
{"transform":[{"filter":"datum.p=='E'&&datum.k=='y2'"}],"mark":{"type":"line","interpolate":"cardinal-closed","tension":0.3,"clip":true,"fill":"#9acb7e","stroke":"#9acb7e","strokeWidth":2.5}},
{"transform":[{"filter":"datum.p=='E'&&datum.k=='y2'"}],"mark":{"type":"line","interpolate":"cardinal-closed","tension":0.3,"clip":true,"fill":"#f7d991","stroke":"#efbd52","strokeWidth":0.8}},
{"transform":[{"filter":"datum.p=='E'&&datum.k=='y1'"}],"mark":{"type":"line","interpolate":"cardinal-closed","tension":0.3,"clip":true,"fill":"#e2a30a","stroke":"#dc9c08","strokeWidth":0.6}}
]},
{"transform":[{"filter":"datum.p=='E'&&datum.k=='y1'"}],"mark":{"type":"point","opacity":0,"clip":true,"size":1},"encoding":{"x":{"field":"x","type":"quantitative","scale":{"domain":[-0.005,0.3],"nice":false,"zero":false},"axis":{"orient":"top","values":[0.039,0.155,0.271],"labels":false,"title":null,"minExtent":0,"maxExtent":0}},"y":{"field":"y","type":"quantitative","scale":{"domain":[1.33,3.31],"nice":false,"zero":false},"axis":{"orient":"right","values":[1.5,2.3,3.1],"labels":false,"title":null,"minExtent":0,"maxExtent":0}}}}
]}
]},
{"spacing":4,"bounds":"flush","resolve":{"scale":{"x":"independent","y":"independent"}},"hconcat":[
{"width":84,"height":84,"resolve":{"axis":{"x":"independent","y":"independent"}},"layer":[
{"data":{"name":"bands"},"mark":{"type":"rect","clip":true},"encoding":{"x":{"field":"lo","type":"quantitative","scale":{"domain":[63.9,76.4],"nice":false,"zero":false},"axis":null},"x2":{"field":"hi"},"color":{"field":"k","type":"nominal","scale":{"domain":["2s","1s"],"range":["#bcedf4","#8fdfeb"]},"legend":null}}},
{"encoding":{"x":{"field":"x","type":"quantitative","scale":{"domain":[63.9,76.4],"nice":false,"zero":false},"axis":{"orient":"bottom","values":[65,70,75],"labels":false,"title":null,"minExtent":0,"maxExtent":0}},"y":{"field":"y","type":"quantitative","scale":{"domain":[1.04,3.04],"nice":false,"zero":false},"axis":{"orient":"left","values":[1.2,2,2.8],"format":".1~f","title":"3wɴᴇᴅᴇ","minExtent":26,"maxExtent":26}},"order":{"field":"i","type":"quantitative"},"detail":{"field":"s","type":"nominal"}},
"layer":[
{"transform":[{"filter":"datum.p=='C'&&datum.k=='r2'"}],"mark":{"type":"line","interpolate":"cardinal-closed","tension":0.3,"clip":true,"fill":"#e8826e","stroke":"#d9262b","strokeWidth":1}},
{"transform":[{"filter":"datum.p=='C'&&datum.k=='y2'"}],"mark":{"type":"line","interpolate":"cardinal-closed","tension":0.3,"clip":true,"fill":"#7aa0d8","stroke":"#6f96d4","strokeWidth":5}},
{"transform":[{"filter":"datum.p=='C'&&datum.k=='y2'"}],"mark":{"type":"line","interpolate":"cardinal-closed","tension":0.3,"clip":true,"fill":"#9acb7e","stroke":"#9acb7e","strokeWidth":2.5}},
{"transform":[{"filter":"datum.p=='C'&&datum.k=='y2'"}],"mark":{"type":"line","interpolate":"cardinal-closed","tension":0.3,"clip":true,"fill":"#f7d991","stroke":"#efbd52","strokeWidth":0.8}},
{"transform":[{"filter":"datum.p=='C'&&datum.k=='y1'"}],"mark":{"type":"line","interpolate":"cardinal-closed","tension":0.3,"clip":true,"fill":"#e2a30a","stroke":"#dc9c08","strokeWidth":0.6}}
]},
{"transform":[{"filter":"datum.p=='C'&&datum.k=='y1'"}],"mark":{"type":"point","opacity":0,"clip":true,"size":1},"encoding":{"x":{"field":"x","type":"quantitative","scale":{"domain":[63.9,76.4],"nice":false,"zero":false},"axis":{"orient":"top","values":[65,70,75],"labels":false,"title":null,"minExtent":0,"maxExtent":0}},"y":{"field":"y","type":"quantitative","scale":{"domain":[1.04,3.04],"nice":false,"zero":false},"axis":{"orient":"right","values":[1.2,2,2.8],"labels":false,"title":null,"minExtent":0,"maxExtent":0}}}}
]},
{"width":84,"height":84,"resolve":{"axis":{"x":"independent","y":"independent"}},"layer":[
{"encoding":{"x":{"field":"x","type":"quantitative","scale":{"domain":[-0.005,0.3],"nice":false,"zero":false},"axis":{"orient":"bottom","values":[0.039,0.155,0.271],"labels":false,"title":null,"minExtent":0,"maxExtent":0}},"y":{"field":"y","type":"quantitative","scale":{"domain":[1.04,3.04],"nice":false,"zero":false},"axis":{"orient":"left","values":[1.2,2,2.8],"labels":false,"title":null,"minExtent":0,"maxExtent":0}},"order":{"field":"i","type":"quantitative"},"detail":{"field":"s","type":"nominal"}},
"layer":[
{"transform":[{"filter":"datum.p=='F'&&datum.k=='r2'"}],"mark":{"type":"line","interpolate":"cardinal-closed","tension":0.3,"clip":true,"fill":"#e8826e","stroke":"#d9262b","strokeWidth":1}},
{"transform":[{"filter":"datum.p=='F'&&datum.k=='r1'"}],"mark":{"type":"line","interpolate":"cardinal-closed","tension":0.3,"clip":true,"fill":"#d3161b","stroke":"#d3161b","strokeWidth":0.5}},
{"transform":[{"filter":"datum.p=='F'&&datum.k=='b'"}],"mark":{"type":"line","interpolate":"cardinal-closed","tension":0.3,"clip":true,"fill":"#86abe0","stroke":"#3f6fc2","strokeWidth":0.8}},
{"transform":[{"filter":"datum.p=='F'&&datum.k=='y2'"}],"mark":{"type":"line","interpolate":"cardinal-closed","tension":0.3,"clip":true,"fill":"#7aa0d8","stroke":"#6f96d4","strokeWidth":5}},
{"transform":[{"filter":"datum.p=='F'&&datum.k=='y2'"}],"mark":{"type":"line","interpolate":"cardinal-closed","tension":0.3,"clip":true,"fill":"#9acb7e","stroke":"#9acb7e","strokeWidth":2.5}},
{"transform":[{"filter":"datum.p=='F'&&datum.k=='y2'"}],"mark":{"type":"line","interpolate":"cardinal-closed","tension":0.3,"clip":true,"fill":"#f7d991","stroke":"#efbd52","strokeWidth":0.8}},
{"transform":[{"filter":"datum.p=='F'&&datum.k=='y1'"}],"mark":{"type":"line","interpolate":"cardinal-closed","tension":0.3,"clip":true,"fill":"#e2a30a","stroke":"#dc9c08","strokeWidth":0.6}}
]},
{"transform":[{"filter":"datum.p=='F'&&datum.k=='y1'"}],"mark":{"type":"point","opacity":0,"clip":true,"size":1},"encoding":{"x":{"field":"x","type":"quantitative","scale":{"domain":[-0.005,0.3],"nice":false,"zero":false},"axis":{"orient":"top","values":[0.039,0.155,0.271],"labels":false,"title":null,"minExtent":0,"maxExtent":0}},"y":{"field":"y","type":"quantitative","scale":{"domain":[1.04,3.04],"nice":false,"zero":false},"axis":{"orient":"right","values":[1.2,2,2.8],"labels":false,"title":null,"minExtent":0,"maxExtent":0}}}}
]},
{"width":84,"height":84,"resolve":{"axis":{"x":"independent","y":"independent"}},"layer":[
{"encoding":{"x":{"field":"x","type":"quantitative","scale":{"domain":[1.29,3.21],"nice":false,"zero":false},"axis":{"orient":"bottom","values":[1.5,2.3,3.1],"labels":false,"title":null,"minExtent":0,"maxExtent":0}},"y":{"field":"y","type":"quantitative","scale":{"domain":[1.04,3.04],"nice":false,"zero":false},"axis":{"orient":"left","values":[1.2,2,2.8],"labels":false,"title":null,"minExtent":0,"maxExtent":0}},"order":{"field":"i","type":"quantitative"},"detail":{"field":"s","type":"nominal"}},
"layer":[
{"transform":[{"filter":"datum.p=='G'&&datum.k=='r2'"}],"mark":{"type":"line","interpolate":"cardinal-closed","tension":0.3,"clip":true,"fill":"#e8826e","stroke":"#d9262b","strokeWidth":1}},
{"transform":[{"filter":"datum.p=='G'&&datum.k=='y2'"}],"mark":{"type":"line","interpolate":"cardinal-closed","tension":0.3,"clip":true,"fill":"#f7d991","stroke":"#efbd52","strokeWidth":0.8}},
{"transform":[{"filter":"datum.p=='G'&&datum.k=='g'"}],"mark":{"type":"line","interpolate":"cardinal-closed","tension":0.3,"clip":true,"fill":"#a8d391","stroke":"#6cb356","strokeWidth":0.8}},
{"transform":[{"filter":"datum.p=='G'&&datum.k=='b'"}],"mark":{"type":"line","interpolate":"cardinal-closed","tension":0.3,"clip":true,"fill":"#9dbde6","stroke":"#3f6fc2","strokeWidth":0.8}},
{"transform":[{"filter":"datum.p=='G'&&datum.k=='y1'"}],"mark":{"type":"line","interpolate":"cardinal-closed","tension":0.3,"clip":true,"fill":"#e2a30a","stroke":"#dc9c08","strokeWidth":0.6}}
]},
{"transform":[{"filter":"datum.p=='G'&&datum.k=='y1'"}],"mark":{"type":"point","opacity":0,"clip":true,"size":1},"encoding":{"x":{"field":"x","type":"quantitative","scale":{"domain":[1.29,3.21],"nice":false,"zero":false},"axis":{"orient":"top","values":[1.5,2.3,3.1],"labels":false,"title":null,"minExtent":0,"maxExtent":0}},"y":{"field":"y","type":"quantitative","scale":{"domain":[1.04,3.04],"nice":false,"zero":false},"axis":{"orient":"right","values":[1.2,2,2.8],"labels":false,"title":null,"minExtent":0,"maxExtent":0}}}}
]}
]},
{"spacing":4,"bounds":"flush","resolve":{"scale":{"x":"independent","y":"independent"}},"hconcat":[
{"width":84,"height":84,"resolve":{"axis":{"x":"independent","y":"independent"}},"layer":[
{"data":{"name":"bands"},"mark":{"type":"rect","clip":true},"encoding":{"x":{"field":"lo","type":"quantitative","scale":{"domain":[63.9,76.4],"nice":false,"zero":false},"axis":null},"x2":{"field":"hi"},"color":{"field":"k","type":"nominal","scale":{"domain":["2s","1s"],"range":["#bcedf4","#8fdfeb"]},"legend":null}}},
{"encoding":{"x":{"field":"x","type":"quantitative","scale":{"domain":[63.9,76.4],"nice":false,"zero":false},"axis":{"orient":"bottom","values":[65,70,75],"format":"d","title":"H₀","titleFontStyle":"italic"}},"y":{"field":"y","type":"quantitative","scale":{"domain":[0.239,0.365],"nice":false,"zero":false},"axis":{"orient":"left","values":[0.25,0.3,0.35],"format":".2~f","title":"Ωₘ","minExtent":26,"maxExtent":26}},"order":{"field":"i","type":"quantitative"},"detail":{"field":"s","type":"nominal"}},
"layer":[
{"transform":[{"filter":"datum.p=='D'&&datum.k=='r2'"}],"mark":{"type":"line","interpolate":"cardinal-closed","tension":0.3,"clip":true,"fill":"#e8826e","stroke":"#d9262b","strokeWidth":1}},
{"transform":[{"filter":"datum.p=='D'&&datum.k=='y2'"}],"mark":{"type":"line","interpolate":"cardinal-closed","tension":0.3,"clip":true,"fill":"#7aa0d8","stroke":"#6f96d4","strokeWidth":6}},
{"transform":[{"filter":"datum.p=='D'&&datum.k=='y2'"}],"mark":{"type":"line","interpolate":"cardinal-closed","tension":0.3,"clip":true,"fill":"#9acb7e","stroke":"#9acb7e","strokeWidth":3}},
{"transform":[{"filter":"datum.p=='D'&&datum.k=='y2'"}],"mark":{"type":"line","interpolate":"cardinal-closed","tension":0.3,"clip":true,"fill":"#f7d991","stroke":"#efbd52","strokeWidth":0.8}},
{"transform":[{"filter":"datum.p=='D'&&datum.k=='y1'"}],"mark":{"type":"line","interpolate":"cardinal-closed","tension":0.3,"clip":true,"fill":"#e2a30a","stroke":"#dc9c08","strokeWidth":0.6}}
]},
{"transform":[{"filter":"datum.p=='D'&&datum.k=='y1'"}],"mark":{"type":"point","opacity":0,"clip":true,"size":1},"encoding":{"x":{"field":"x","type":"quantitative","scale":{"domain":[63.9,76.4],"nice":false,"zero":false},"axis":{"orient":"top","values":[65,70,75],"labels":false,"title":null,"minExtent":0,"maxExtent":0}},"y":{"field":"y","type":"quantitative","scale":{"domain":[0.239,0.365],"nice":false,"zero":false},"axis":{"orient":"right","values":[0.25,0.3,0.35],"labels":false,"title":null,"minExtent":0,"maxExtent":0}}}}
]},
{"width":84,"height":84,"resolve":{"axis":{"x":"independent","y":"independent"}},"layer":[
{"encoding":{"x":{"field":"x","type":"quantitative","scale":{"domain":[-0.005,0.3],"nice":false,"zero":false},"axis":{"orient":"bottom","values":[0.039,0.155,0.271],"format":".3f","title":"fɴᴇᴅᴇ","titleFontStyle":"italic"}},"y":{"field":"y","type":"quantitative","scale":{"domain":[0.239,0.365],"nice":false,"zero":false},"axis":{"orient":"left","values":[0.25,0.3,0.35],"labels":false,"title":null,"minExtent":0,"maxExtent":0}},"order":{"field":"i","type":"quantitative"},"detail":{"field":"s","type":"nominal"}},
"layer":[
{"transform":[{"filter":"datum.p=='H'&&datum.k=='r2'"}],"mark":{"type":"line","interpolate":"cardinal-closed","tension":0.3,"clip":true,"fill":"#e8826e","stroke":"#d9262b","strokeWidth":1}},
{"transform":[{"filter":"datum.p=='H'&&datum.k=='r1'"}],"mark":{"type":"line","interpolate":"cardinal-closed","tension":0.3,"clip":true,"fill":"#d3161b","stroke":"#d3161b","strokeWidth":0.5}},
{"transform":[{"filter":"datum.p=='H'&&datum.k=='y2'"}],"mark":{"type":"line","interpolate":"cardinal-closed","tension":0.3,"clip":true,"fill":"#7aa0d8","stroke":"#6f96d4","strokeWidth":8}},
{"transform":[{"filter":"datum.p=='H'&&datum.k=='y2'"}],"mark":{"type":"line","interpolate":"cardinal-closed","tension":0.3,"clip":true,"fill":"#9acb7e","stroke":"#9acb7e","strokeWidth":4}},
{"transform":[{"filter":"datum.p=='H'&&datum.k=='y2'"}],"mark":{"type":"line","interpolate":"cardinal-closed","tension":0.3,"clip":true,"fill":"#f7d991","stroke":"#efbd52","strokeWidth":0.8}},
{"transform":[{"filter":"datum.p=='H'&&datum.k=='b'"}],"mark":{"type":"line","interpolate":"cardinal-closed","tension":0.3,"clip":true,"fill":"#86abe0","stroke":"#3f6fc2","strokeWidth":0.8}},
{"transform":[{"filter":"datum.p=='H'&&datum.k=='y1'"}],"mark":{"type":"line","interpolate":"cardinal-closed","tension":0.3,"clip":true,"fill":"#e2a30a","stroke":"#dc9c08","strokeWidth":0.6}}
]},
{"transform":[{"filter":"datum.p=='H'&&datum.k=='y1'"}],"mark":{"type":"point","opacity":0,"clip":true,"size":1},"encoding":{"x":{"field":"x","type":"quantitative","scale":{"domain":[-0.005,0.3],"nice":false,"zero":false},"axis":{"orient":"top","values":[0.039,0.155,0.271],"labels":false,"title":null,"minExtent":0,"maxExtent":0}},"y":{"field":"y","type":"quantitative","scale":{"domain":[0.239,0.365],"nice":false,"zero":false},"axis":{"orient":"right","values":[0.25,0.3,0.35],"labels":false,"title":null,"minExtent":0,"maxExtent":0}}}}
]},
{"width":84,"height":84,"resolve":{"axis":{"x":"independent","y":"independent"}},"layer":[
{"encoding":{"x":{"field":"x","type":"quantitative","scale":{"domain":[1.29,3.21],"nice":false,"zero":false},"axis":{"orient":"bottom","values":[1.5,2.3,3.1],"format":".1f","title":"Log₁₀(mɴᴇᴅᴇ)"}},"y":{"field":"y","type":"quantitative","scale":{"domain":[0.239,0.365],"nice":false,"zero":false},"axis":{"orient":"left","values":[0.25,0.3,0.35],"labels":false,"title":null,"minExtent":0,"maxExtent":0}},"order":{"field":"i","type":"quantitative"},"detail":{"field":"s","type":"nominal"}},
"layer":[
{"transform":[{"filter":"datum.p=='I'&&datum.k=='r2'"}],"mark":{"type":"line","interpolate":"cardinal-closed","tension":0.3,"clip":true,"fill":"#e8826e","stroke":"#d9262b","strokeWidth":1}},
{"transform":[{"filter":"datum.p=='I'&&datum.k=='r1'"}],"mark":{"type":"line","interpolate":"cardinal-closed","tension":0.3,"clip":true,"fill":"#d3161b","stroke":"#d3161b","strokeWidth":0.5}},
{"transform":[{"filter":"datum.p=='I'&&datum.k=='y2'"}],"mark":{"type":"line","interpolate":"cardinal-closed","tension":0.3,"clip":true,"fill":"#7aa0d8","stroke":"#6f96d4","strokeWidth":8}},
{"transform":[{"filter":"datum.p=='I'&&datum.k=='y2'"}],"mark":{"type":"line","interpolate":"cardinal-closed","tension":0.3,"clip":true,"fill":"#9acb7e","stroke":"#9acb7e","strokeWidth":4}},
{"transform":[{"filter":"datum.p=='I'&&datum.k=='y2'"}],"mark":{"type":"line","interpolate":"cardinal-closed","tension":0.3,"clip":true,"fill":"#f7d991","stroke":"#efbd52","strokeWidth":0.8}},
{"transform":[{"filter":"datum.p=='I'&&datum.k=='y1'"}],"mark":{"type":"line","interpolate":"cardinal-closed","tension":0.3,"clip":true,"fill":"#e2a30a","stroke":"#dc9c08","strokeWidth":0.6}}
]},
{"transform":[{"filter":"datum.p=='I'&&datum.k=='y1'"}],"mark":{"type":"point","opacity":0,"clip":true,"size":1},"encoding":{"x":{"field":"x","type":"quantitative","scale":{"domain":[1.29,3.21],"nice":false,"zero":false},"axis":{"orient":"top","values":[1.5,2.3,3.1],"labels":false,"title":null,"minExtent":0,"maxExtent":0}},"y":{"field":"y","type":"quantitative","scale":{"domain":[0.239,0.365],"nice":false,"zero":false},"axis":{"orient":"right","values":[0.25,0.3,0.35],"labels":false,"title":null,"minExtent":0,"maxExtent":0}}}}
]},
{"width":84,"height":84,"resolve":{"axis":{"x":"independent","y":"independent"}},"layer":[
{"encoding":{"x":{"field":"x","type":"quantitative","scale":{"domain":[0.95,2.95],"nice":false,"zero":false},"axis":{"orient":"bottom","values":[1.2,2,2.8],"format":".1~f","title":"3wɴᴇᴅᴇ"}},"y":{"field":"y","type":"quantitative","scale":{"domain":[0.239,0.365],"nice":false,"zero":false},"axis":{"orient":"left","values":[0.25,0.3,0.35],"labels":false,"title":null,"minExtent":0,"maxExtent":0}},"order":{"field":"i","type":"quantitative"},"detail":{"field":"s","type":"nominal"}},
"layer":[
{"transform":[{"filter":"datum.p=='J'&&datum.k=='r2'"}],"mark":{"type":"line","interpolate":"cardinal-closed","tension":0.3,"clip":true,"fill":"#e8826e","stroke":"#d9262b","strokeWidth":1}},
{"transform":[{"filter":"datum.p=='J'&&datum.k=='y2'"}],"mark":{"type":"line","interpolate":"cardinal-closed","tension":0.3,"clip":true,"fill":"#7aa0d8","stroke":"#6f96d4","strokeWidth":8}},
{"transform":[{"filter":"datum.p=='J'&&datum.k=='y2'"}],"mark":{"type":"line","interpolate":"cardinal-closed","tension":0.3,"clip":true,"fill":"#9acb7e","stroke":"#9acb7e","strokeWidth":4}},
{"transform":[{"filter":"datum.p=='J'&&datum.k=='y2'"}],"mark":{"type":"line","interpolate":"cardinal-closed","tension":0.3,"clip":true,"fill":"#f7d991","stroke":"#efbd52","strokeWidth":0.8}},
{"transform":[{"filter":"datum.p=='J'&&datum.k=='y1'"}],"mark":{"type":"line","interpolate":"cardinal-closed","tension":0.3,"clip":true,"fill":"#e2a30a","stroke":"#dc9c08","strokeWidth":0.6}}
]},
{"transform":[{"filter":"datum.p=='J'&&datum.k=='y1'"}],"mark":{"type":"point","opacity":0,"clip":true,"size":1},"encoding":{"x":{"field":"x","type":"quantitative","scale":{"domain":[0.95,2.95],"nice":false,"zero":false},"axis":{"orient":"top","values":[1.2,2,2.8],"labels":false,"title":null,"minExtent":0,"maxExtent":0}},"y":{"field":"y","type":"quantitative","scale":{"domain":[0.239,0.365],"nice":false,"zero":false},"axis":{"orient":"right","values":[0.25,0.3,0.35],"labels":false,"title":null,"minExtent":0,"maxExtent":0}}}}
]}
]}
],
"config":{
"view":{"stroke":"#8c8c8c","strokeWidth":1},
"axis":{"domain":false,"grid":false,"tickSize":3,"offset":-3,"tickColor":"#666","tickWidth":0.8,"labelFont":"Liberation Sans","labelFontSize":9.5,"labelColor":"#111","labelPadding":2,"labelFlush":false,"labelOverlap":false,"labelBound":false,"titleFont":"Liberation Serif","titleFontSize":11,"titleFontWeight":"normal","titleColor":"#111","titlePadding":1}
}
}
